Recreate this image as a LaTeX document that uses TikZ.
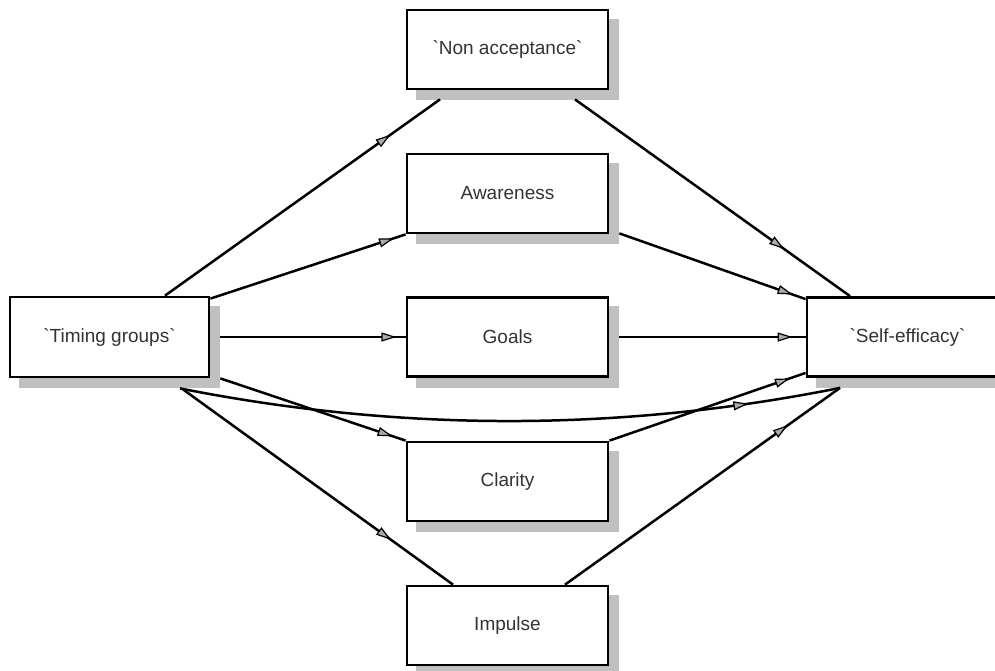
\documentclass[tikz,border=0pt]{standalone}
\usepackage{fontspec}
\setmainfont{Liberation Sans}
\usetikzlibrary{arrows.meta,decorations.markings,backgrounds,calc}
\definecolor{shadowc}{RGB}{192,192,192}
\definecolor{tipc}{RGB}{170,170,170}
\newcommand\gr{\textasciigrave}
\tikzset{
  box/.style={draw=black, line width=2.8pt, fill=white, minimum width=201pt, minimum height=79pt,
    inner sep=0pt, text=black!80, font=\fontsize{19}{21}\selectfont},
  shadowbox/.style={fill=shadowc},
  conn/.style={line width=2.5pt, black},
  midarrow/.style={postaction={decorate, decoration={markings,
    mark=at position #1 with {\arrow{Triangle[length=15pt,width=9pt,fill=tipc,line width=1.2pt]}}}}}
}
\begin{document}
\begin{tikzpicture}[x=1pt,y=-1pt]
\clip (0,0) rectangle (995,670);
% nodes
\node[box] (na) at (507.5,49.5) {\gr Non acceptance\gr};
\node[box] (aw) at (507.5,193.5) {Awareness};
\node[box] (go) at (507.5,337) {Goals};
\node[box] (cl) at (507.5,481.5) {Clarity};
\node[box] (im) at (507.5,625.5) {Impulse};
\node[box, minimum width=199pt, minimum height=80pt] (tg) at (109.5,337) {\gr Timing groups\gr};
\node[box] (se) at (907.5,337) {\gr Self-efficacy\gr};
% shadows
\begin{pgfonlayer}{background}
\fill[white] (0,0) rectangle (995,670);
\foreach \n in {na,aw,go,cl,im,tg,se}{
  \fill[shadowbox] ([shift={(10,10)}]\n.north west) rectangle ([shift={(10,10)}]\n.south east);
}
\end{pgfonlayer}
% connectors
\draw[conn, midarrow=0.82] ([shift={(55.5,0)}]tg.north) -- ([shift={(-67.5,9)}]na.south);
\draw[conn, midarrow=0.94] ([shift={(0,3)}]tg.north east) -- (aw.south west);
\draw[conn, midarrow=0.95] ([shift={(10,0)}]tg.east) -- (go.west);
\draw[conn, midarrow=0.93] ([shift={(10,0)}]tg.south east) -- (cl.north west);
\draw[conn, midarrow=0.77] ([shift={(73.5,11)}]tg.south) -- ([shift={(-54.5,0)}]im.north);
\draw[conn, midarrow=0.86] ([shift={(70.5,10)}]tg.south) .. controls (400,432) and (620,432) .. ([shift={(-67.5,10)}]se.south);
\draw[conn, midarrow=0.93] ([shift={(10,-1)}]aw.south east) -- ([shift={(0,3)}]se.north west);
\draw[conn, midarrow=0.93] ([shift={(10,0)}]go.east) -- (se.west);
\draw[conn, midarrow=0.92] (cl.north east) -- ([shift={(0,-5)}]se.south west);
\draw[conn, midarrow=0.81] ([shift={(57.5,0)}]im.north) -- ([shift={(-67.5,10)}]se.south);
\draw[conn, midarrow=0.76] ([shift={(67.5,9)}]na.south) -- ([shift={(-57.5,0)}]se.north);
\end{tikzpicture}
\end{document}
